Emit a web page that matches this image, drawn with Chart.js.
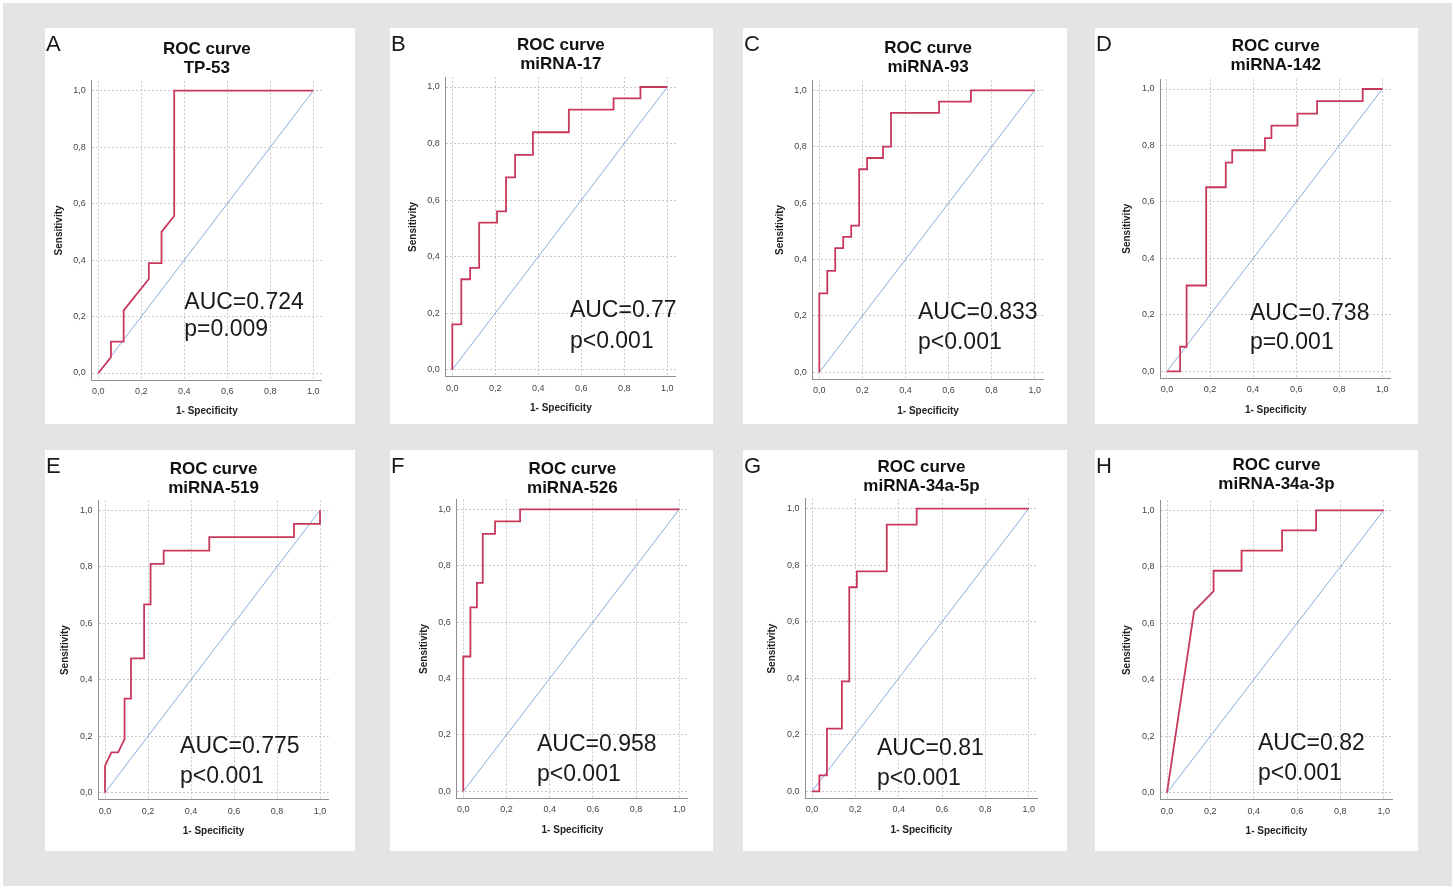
<!DOCTYPE html>
<html>
<head>
<meta charset="utf-8">
<script src="https://cdn.jsdelivr.net/npm/chart.js@4.4.1/dist/chart.umd.min.js"></script>
<style>
  html, body { margin: 0; padding: 0; background: #fff; }
  #page { position: absolute; left: 3px; top: 3px; width: 1449px; height: 883px; background: #e4e4e4; }
  .panel { position: absolute; background: #fff; }
  .panel canvas { display: block; }
</style>
</head>
<body>
<div id="page"></div>
<script>
// ROC data (1 - specificity, sensitivity)
const tp53Fpr = [0, 0.059, 0.059, 0.118, 0.118, 0.235, 0.235, 0.294, 0.294, 0.353, 0.353, 1];
const tp53Tpr = [0, 0.056, 0.111, 0.111, 0.222, 0.333, 0.389, 0.389, 0.5, 0.556, 1, 1];

const mir17Fpr = [0, 0, 0.042, 0.042, 0.083, 0.083, 0.125, 0.125, 0.208, 0.208, 0.25, 0.25, 0.292, 0.292, 0.375, 0.375, 0.542, 0.542, 0.75, 0.75, 0.875, 0.875, 1];
const mir17Tpr = [0, 0.16, 0.16, 0.32, 0.32, 0.36, 0.36, 0.52, 0.52, 0.56, 0.56, 0.68, 0.68, 0.76, 0.76, 0.84, 0.84, 0.92, 0.92, 0.96, 0.96, 1, 1];

const mir93Fpr = [0, 0, 0.037, 0.037, 0.074, 0.074, 0.111, 0.111, 0.148, 0.148, 0.185, 0.185, 0.222, 0.222, 0.296, 0.296, 0.333, 0.333, 0.556, 0.556, 0.704, 0.704, 1];
const mir93Tpr = [0, 0.28, 0.28, 0.36, 0.36, 0.44, 0.44, 0.48, 0.48, 0.52, 0.52, 0.72, 0.72, 0.76, 0.76, 0.8, 0.8, 0.92, 0.92, 0.96, 0.96, 1, 1];

const mir142Fpr = [0, 0.061, 0.061, 0.091, 0.091, 0.182, 0.182, 0.273, 0.273, 0.303, 0.303, 0.455, 0.455, 0.485, 0.485, 0.606, 0.606, 0.697, 0.697, 0.909, 0.909, 1];
const mir142Tpr = [0, 0, 0.087, 0.087, 0.304, 0.304, 0.652, 0.652, 0.739, 0.739, 0.783, 0.783, 0.826, 0.826, 0.87, 0.87, 0.913, 0.913, 0.957, 0.957, 1, 1];

const mir519Fpr = [0, 0, 0.03, 0.061, 0.091, 0.091, 0.121, 0.121, 0.182, 0.182, 0.212, 0.212, 0.273, 0.273, 0.485, 0.485, 0.879, 0.879, 1, 1];
const mir519Tpr = [0, 0.095, 0.143, 0.143, 0.19, 0.333, 0.333, 0.476, 0.476, 0.667, 0.667, 0.81, 0.81, 0.857, 0.857, 0.905, 0.905, 0.952, 0.952, 1];

const mir526Fpr = [0, 0, 0.033, 0.033, 0.063, 0.063, 0.09, 0.09, 0.147, 0.147, 0.263, 0.263, 1];
const mir526Tpr = [0, 0.478, 0.478, 0.652, 0.652, 0.739, 0.739, 0.913, 0.913, 0.957, 0.957, 1, 1];

const mir34a5pFpr = [0, 0.034, 0.034, 0.069, 0.069, 0.138, 0.138, 0.172, 0.172, 0.207, 0.207, 0.345, 0.345, 0.483, 0.483, 1];
const mir34a5pTpr = [0, 0, 0.056, 0.056, 0.222, 0.222, 0.389, 0.389, 0.722, 0.722, 0.778, 0.778, 0.944, 0.944, 1, 1];

const mir34a3pFpr = [0, 0.125, 0.215, 0.215, 0.344, 0.344, 0.531, 0.531, 0.688, 0.688, 1];
const mir34a3pTpr = [0, 0.643, 0.714, 0.786, 0.786, 0.857, 0.857, 0.929, 0.929, 1, 1];

const refFpr = [0, 1];
const refTpr = [0, 1];

const panelLetters = ['A', 'B', 'C', 'D', 'E', 'F', 'G', 'H'];
const markerNames = ['TP-53', 'miRNA-17', 'miRNA-93', 'miRNA-142', 'miRNA-519', 'miRNA-526', 'miRNA-34a-5p', 'miRNA-34a-3p'];
const aucLabels = ['AUC=0.724', 'AUC=0.77', 'AUC=0.833', 'AUC=0.738', 'AUC=0.775', 'AUC=0.958', 'AUC=0.81', 'AUC=0.82'];
const pLabels = ['p=0.009', 'p<0.001', 'p<0.001', 'p=0.001', 'p<0.001', 'p<0.001', 'p<0.001', 'p<0.001'];

const curves = [
  [tp53Fpr, tp53Tpr], [mir17Fpr, mir17Tpr], [mir93Fpr, mir93Tpr], [mir142Fpr, mir142Tpr],
  [mir519Fpr, mir519Tpr], [mir526Fpr, mir526Tpr], [mir34a5pFpr, mir34a5pTpr], [mir34a3pFpr, mir34a3pTpr]
];

// layout: white box, pixel spot of data 0 and 1 on each axis, title line, AUC text spot (data units)
const layout = [
  { box: [45, 28, 355, 424],    frame: [98.3, 313.3, 90.7, 373],     titleY: 49,  at: [0.40, 0.25, 0.152] },
  { box: [390, 28, 713, 424],   frame: [452.3, 667.3, 87, 369.7],    titleY: 45,  at: [0.547, 0.208, 0.10] },
  { box: [743, 28, 1067, 424],  frame: [819.3, 1034.7, 90.3, 372.3], titleY: 48,  at: [0.458, 0.21, 0.104] },
  { box: [1095, 28, 1418, 424], frame: [1167, 1382.3, 89, 371.3],    titleY: 46,  at: [0.385, 0.203, 0.10] },
  { box: [45, 450, 355, 851],   frame: [105, 320, 510.3, 792.7],     titleY: 469, at: [0.349, 0.162, 0.056] },
  { box: [390, 450, 713, 851],  frame: [463.3, 679.3, 509.3, 791.3], titleY: 469, at: [0.341, 0.164, 0.058] },
  { box: [743, 450, 1067, 851], frame: [812, 1028.7, 508.7, 791.3],  titleY: 467, at: [0.30, 0.15, 0.044] },
  { box: [1095, 450, 1418, 851],frame: [1167, 1383.7, 510.3, 792.7], titleY: 465, at: [0.42, 0.172, 0.066] }
];

const X_MIN = -0.03, X_MAX = 1.04, Y_MIN = -0.025, Y_MAX = 1.035;
const FONT = '"Liberation Sans", Arial, sans-serif';
const AXIS_W = 42, AXIS_H = 42;
const TITLE_SIZE = 17, TITLE_LH = 1.15;

const panelText = {
  id: 'panelText',
  afterDraw(chart, args, opts) {
    const { ctx, scales: { x, y } } = chart;
    ctx.save();
    ctx.fillStyle = '#1a1a1a';
    ctx.textAlign = 'left';
    ctx.textBaseline = 'middle';
    ctx.font = '22px ' + FONT;
    ctx.fillText(opts.letter, 1, 17);
    ctx.font = '23px ' + FONT;
    const tx = x.getPixelForValue(opts.at[0]);
    ctx.fillText(opts.auc, tx, y.getPixelForValue(opts.at[1]));
    ctx.fillText(opts.p, tx, y.getPixelForValue(opts.at[2]));
    ctx.restore();
  }
};

const fmt = v => v.toFixed(1).replace('.', ',');
const page = document.getElementById('page');

layout.forEach((p, i) => {
  const [bl, bt, br, bb] = p.box;
  const w = br - bl, h = bb - bt;
  const span = p.frame[1] - p.frame[0];
  const vspan = p.frame[3] - p.frame[2];
  const caL = p.frame[0] + X_MIN * span;
  const caR = p.frame[1] + (X_MAX - 1) * span;
  const caT = p.frame[2] - (Y_MAX - 1) * vspan;
  const caB = p.frame[3] - Y_MIN * vspan;
  const lh = TITLE_SIZE * TITLE_LH;
  const titleTop = p.titleY - bt - lh / 2;
  const titleBottom = (caT - bt) - titleTop - 2 * lh;

  const div = document.createElement('div');
  div.className = 'panel';
  div.style.left = (bl - 3) + 'px';
  div.style.top = (bt - 3) + 'px';
  div.style.width = w + 'px';
  div.style.height = h + 'px';
  const canvas = document.createElement('canvas');
  canvas.width = w;
  canvas.height = h;
  div.appendChild(canvas);
  page.appendChild(div);

  const [fpr, tpr] = curves[i];
  new Chart(canvas, {
    type: 'scatter',
    data: {
      datasets: [
        {
          data: fpr.map((v, k) => ({ x: v, y: tpr[k] })),
          showLine: true,
          borderColor: '#c8385c',
          borderWidth: 1.8,
          pointRadius: 0,
          tension: 0
        },
        {
          data: refFpr.map((v, k) => ({ x: v, y: refTpr[k] })),
          showLine: true,
          borderColor: '#88acd8',
          borderWidth: 1,
          pointRadius: 0
        }
      ]
    },
    options: {
      responsive: false,
      animation: false,
      devicePixelRatio: 1,
      layout: {
        padding: { left: caL - bl - AXIS_W, right: br - caR, top: 0, bottom: bb - caB - AXIS_H }
      },
      plugins: {
        legend: { display: false },
        tooltip: { enabled: false },
        title: {
          display: true,
          fullSize: false,
          text: ['ROC curve', markerNames[i]],
          color: '#111',
          font: { family: FONT, size: TITLE_SIZE, weight: 'bold', lineHeight: TITLE_LH },
          padding: { top: titleTop, bottom: titleBottom }
        },
        panelText: { letter: panelLetters[i], auc: aucLabels[i], p: pLabels[i], at: p.at }
      },
      scales: {
        x: {
          type: 'linear',
          min: X_MIN,
          max: X_MAX,
          afterFit: s => { s.height = AXIS_H; },
          ticks: {
            stepSize: 0.2,
            includeBounds: false,
            callback: fmt,
            color: '#444',
            padding: 6,
            maxRotation: 0,
            font: { family: FONT, size: 9 }
          },
          grid: { color: '#c9c9c9', drawTicks: false },
          border: { color: '#8f8f8f', width: 1, dash: [2, 2] },
          title: {
            display: true,
            text: '1- Specificity',
            color: '#222',
            font: { family: FONT, size: 10, weight: 'bold' },
            padding: { top: 0, bottom: AXIS_H - 31.5 - 6 }
          }
        },
        y: {
          type: 'linear',
          min: Y_MIN,
          max: Y_MAX,
          afterFit: s => { s.width = AXIS_W; },
          ticks: {
            stepSize: 0.2,
            includeBounds: false,
            callback: fmt,
            color: '#444',
            padding: 6,
            font: { family: FONT, size: 9 }
          },
          grid: { color: '#c9c9c9', drawTicks: false },
          border: { color: '#8f8f8f', width: 1, dash: [2, 2] },
          title: {
            display: true,
            text: 'Sensitivity',
            color: '#222',
            font: { family: FONT, size: 10, weight: 'bold' },
            padding: { top: AXIS_W - 33 - 6, bottom: 0 }
          }
        }
      }
    },
    plugins: [panelText]
  });
});
</script>
</body>
</html>
